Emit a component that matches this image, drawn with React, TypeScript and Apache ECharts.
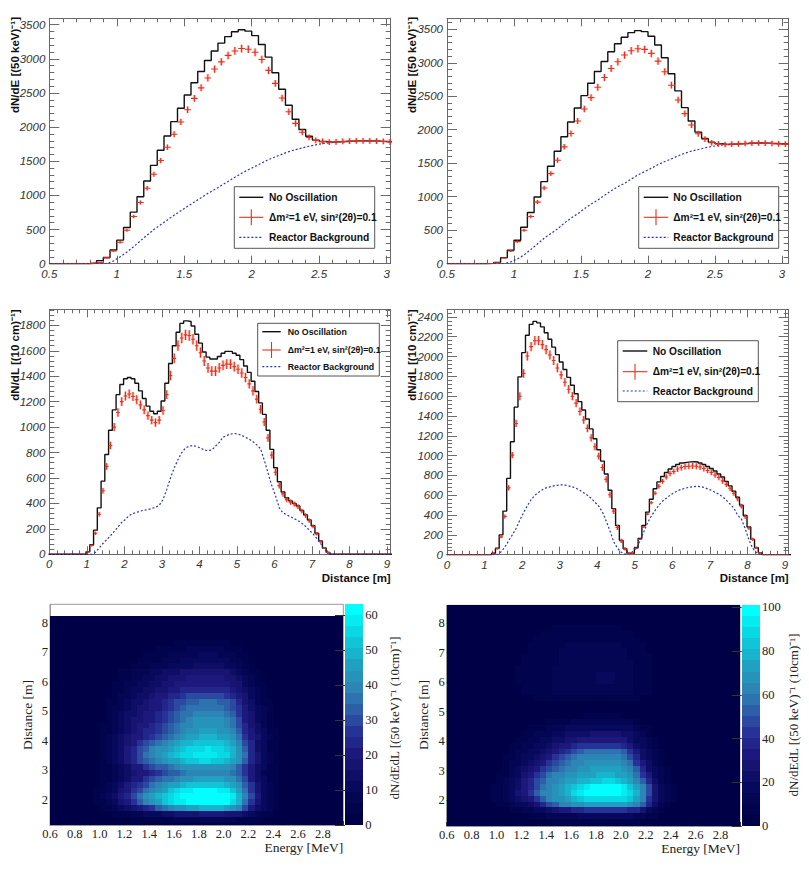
import React, { useEffect, useRef } from "react";
import * as echarts from "echarts";

// Energy spectra: one value per 50 keV bin, starting with the bin that begins at 0.5 MeV
const energyBlackA = [0,0,0,0,0,0,10,45,90,200,345,530,755,980,1210,1440,1660,1870,2080,2275,2470,2650,2815,2975,3115,3230,3325,3395,3425,3405,3340,3210,3025,2795,2555,2320,2115,1965,1865,1810,1790,1780,1785,1790,1795,1798,1800,1798,1795,1790,1785];
const energyRedA = [0,0,0,0,0,0,5,20,85,185,315,490,690,895,1105,1310,1510,1705,1895,2075,2255,2420,2575,2720,2850,2955,3050,3115,3150,3140,3095,2990,2830,2640,2425,2225,2055,1925,1850,1805,1790,1780,1785,1790,1795,1798,1800,1798,1795,1790,1785];
const energyBlueA = [0,0,0,0,0,0,0,0,0,40,100,170,250,335,420,500,570,640,710,775,840,905,965,1030,1085,1145,1205,1265,1325,1375,1425,1475,1525,1565,1605,1640,1670,1695,1720,1740,1760,1770,1780,1785,1790,1795,1800,1798,1795,1790,1785];
const energyBlackB = [0,0,0,0,0,0,5,20,90,200,350,545,765,995,1225,1455,1680,1895,2115,2325,2510,2695,2870,3020,3165,3285,3380,3450,3480,3465,3395,3265,3075,2835,2580,2330,2130,1965,1870,1815,1790,1780,1785,1790,1795,1800,1802,1800,1795,1790,1785];
const energyRedB = [0,0,0,0,0,0,3,15,85,190,330,500,705,920,1130,1345,1545,1745,1945,2130,2310,2480,2635,2780,2915,3015,3115,3180,3210,3200,3140,3025,2865,2665,2445,2240,2070,1940,1860,1805,1790,1780,1785,1790,1795,1800,1802,1800,1795,1790,1785];
const energyBlueB = [0,0,0,0,0,0,0,0,0,25,70,130,210,295,380,450,520,605,680,745,820,890,950,1020,1090,1150,1200,1265,1325,1375,1425,1480,1525,1565,1610,1650,1680,1705,1730,1750,1765,1775,1785,1790,1795,1800,1802,1800,1795,1790,1785];
const energyErr = [0,0,0,0,0,0,2,4,9,14,18,22,26,30,33,36,39,41,44,46,47,49,51,52,53,54,55,56,56,56,56,55,53,51,49,47,45,44,43,42,42,42,42,42,42,42,42,42,42,42,42];

// Distance spectra: one value per 10 cm bin, the first listed bin is bin index distFirstC / distFirstD
const distFirstC = 10;
const distBlackC = [20,75,190,365,575,785,975,1135,1255,1335,1380,1390,1380,1345,1285,1225,1165,1125,1105,1125,1205,1345,1500,1640,1745,1815,1835,1830,1795,1730,1660,1590,1550,1535,1535,1555,1580,1595,1595,1580,1565,1530,1480,1430,1360,1280,1190,1100,975,825,680,570,490,445,420,400,380,345,310,270,225,165,105,50,15];
const distRedC = [20,70,165,315,500,690,855,1000,1115,1200,1245,1260,1240,1215,1175,1135,1090,1055,1035,1055,1130,1255,1405,1540,1640,1700,1725,1720,1690,1640,1585,1520,1465,1440,1440,1465,1485,1495,1495,1475,1455,1425,1390,1340,1285,1220,1140,1040,915,780,645,540,475,430,410,395,375,340,305,265,220,160,100,50,15];
const distBlueC = [0,0,15,50,85,115,145,180,215,250,275,305,320,330,340,347,352,360,370,385,430,510,600,680,745,800,835,850,855,848,835,820,815,820,850,880,920,935,945,950,945,935,920,905,885,860,830,740,640,540,460,365,325,310,295,280,265,245,220,190,160,125,85,40,10];
const distErrC = [5,8,13,18,22,26,29,32,33,35,35,35,35,35,34,34,33,32,32,32,33,35,37,39,40,41,41,41,41,40,40,39,38,38,38,38,38,39,39,38,38,38,37,37,36,35,34,32,30,28,25,23,22,21,20,20,19,18,17,16,15,13,10,7,4];

const distFirstD = 12;
const distBlackD = [15,65,200,440,770,1140,1490,1795,2040,2215,2325,2355,2340,2300,2240,2175,2095,2020,1945,1870,1790,1710,1625,1545,1460,1370,1270,1170,1060,945,815,650,465,295,145,60,15,15,70,165,295,430,560,665,735,790,830,865,890,910,925,932,937,938,935,925,910,890,870,845,815,785,740,695,640,580,500,395,280,155,70,20];
const distRedD = [15,60,180,385,675,1005,1325,1600,1830,2005,2100,2160,2160,2120,2070,2015,1960,1885,1815,1740,1670,1600,1530,1445,1360,1275,1180,1090,995,880,760,605,440,275,140,60,15,15,65,155,280,410,525,620,690,740,785,820,840,865,880,890,893,895,893,885,870,850,830,805,780,745,710,670,620,565,490,385,270,155,70,20];
const distBlueD = [0,0,30,75,140,200,265,350,425,495,555,600,630,655,675,685,695,700,705,703,695,685,670,650,625,600,570,530,490,430,340,240,130,65,25,5,5,30,65,140,230,320,390,445,500,540,570,600,625,645,660,670,680,685,690,688,680,665,650,630,610,585,550,510,470,400,360,265,150,65,20,5];
const distErrD = [4,8,13,20,26,32,36,40,43,45,46,47,47,47,46,45,45,44,43,43,42,41,41,40,39,38,37,36,34,33,31,30,28,25,21,17,12,8,4,4,8,12,17,20,23,25,26,27,28,29,29,30,30,30,30,30,30,29,29,29,28,28,27,27,26,25,24,22,20,16,12,8];

// 2D maps: columns start at 0.95 MeV (50 keV wide), rows start at the lowest non-empty row (0.2 m high)
const mapA: number[][] = [
[0,0,2,2,2,2,4,4,4,5,5,5,5,7,7,7,7,7,8,8,7,7,7,5,5,4,4,2,2,2,0,0],
[0,2,2,4,4,5,7,8,10,11,12,14,15,16,17,18,18,19,19,19,19,18,17,16,14,10,7,5,4,2,2,0],
[2,4,5,7,10,14,17,20,24,28,32,36,39,42,44,46,47,48,49,49,48,47,44,40,29,19,14,10,7,4,2,0],
[4,5,8,12,17,22,27,32,38,43,47,51,54,57,59,60,61,62,62,62,61,60,56,49,37,26,18,12,8,5,2,0],
[4,7,10,15,19,25,30,36,41,45,48,52,55,58,60,61,62,63,63,63,62,60,57,50,39,30,19,12,8,5,2,0],
[4,5,8,12,17,22,27,31,36,40,44,47,51,54,57,58,60,60,60,60,59,57,53,46,37,27,18,12,8,5,2,0],
[3,5,8,11,15,19,23,27,31,35,39,42,45,47,49,51,52,53,53,53,52,50,47,42,34,26,18,12,8,5,2,0],
[2,4,6,9,12,15,19,22,26,29,32,35,37,40,42,44,45,46,46,46,45,44,41,36,29,22,15,10,6,4,2,0],
[2,4,5,8,10,13,16,19,22,25,28,30,32,34,36,38,39,40,40,40,39,38,36,32,26,20,14,9,5,4,2,0],
[2,4,6,9,12,15,19,22,26,29,32,34,36,39,41,42,43,44,44,44,43,42,39,34,28,21,15,10,6,4,2,0],
[2,5,7,11,15,20,25,29,33,36,39,42,45,47,49,51,53,54,54,53,52,50,47,42,33,24,16,11,7,4,2,0],
[2,5,7,11,15,20,25,30,36,40,43,46,48,51,54,55,57,58,58,58,56,54,50,44,35,24,16,11,7,4,2,0],
[2,4,7,10,15,19,24,29,33,38,41,44,47,50,52,54,55,56,57,56,54,53,49,43,32,24,15,10,5,4,2,0],
[3,5,7,10,14,18,22,26,30,33,36,39,43,46,48,50,52,53,53,53,51,49,46,40,30,23,15,10,6,4,2,0],
[3,5,7,10,13,16,19,22,25,28,31,34,37,40,43,45,47,48,48,48,47,45,42,37,28,22,16,11,7,4,2,0],
[2,4,6,9,12,15,18,20,23,25,28,31,34,37,40,42,44,45,45,45,44,43,40,34,25,20,14,10,6,4,2,0],
[2,4,6,9,12,14,17,19,21,24,26,29,32,35,38,40,42,43,43,43,42,40,37,31,23,18,13,9,6,3,1,0],
[2,3,5,8,11,13,16,18,20,22,25,28,31,34,37,39,41,42,42,42,41,39,36,30,22,17,12,8,5,3,1,0],
[1,3,5,8,10,13,15,17,19,21,24,27,30,33,35,37,38,39,39,39,38,36,33,28,21,16,11,8,5,3,1,0],
[1,3,5,7,9,12,14,16,18,20,22,25,28,31,33,35,36,37,37,37,36,34,31,26,19,15,10,7,4,2,1,0],
[1,2,4,6,8,11,13,15,17,19,21,23,26,29,31,33,34,35,35,35,34,32,29,24,18,13,9,6,4,2,1,0],
[0,2,3,5,7,9,11,13,15,17,19,21,23,25,27,29,30,31,31,30,30,28,25,21,16,12,8,5,3,2,0,0],
[0,1,3,4,6,8,10,12,13,15,17,18,20,21,23,24,25,25,25,25,24,23,21,18,14,10,7,4,3,1,0,0],
[0,1,2,4,5,7,9,10,12,13,15,16,18,19,20,21,22,22,22,22,21,20,18,16,12,9,6,4,2,1,0,0],
[0,0,2,3,5,6,8,9,10,12,13,15,16,17,18,19,19,20,20,20,19,18,16,14,11,8,5,3,2,1,0,0],
[0,0,1,3,4,5,7,8,9,10,12,13,14,15,16,16,17,17,17,17,17,16,14,12,9,6,4,2,1,0,0,0],
[0,0,0,0,2,2,4,4,5,7,7,8,10,11,11,12,14,14,14,14,14,12,11,8,5,4,2,0,0,0,0,0],
[0,0,0,0,0,2,2,4,4,5,5,7,8,8,10,10,11,11,11,11,11,10,8,7,4,2,2,0,0,0,0,0],
[0,0,0,0,0,0,2,2,4,4,5,5,7,7,8,8,8,10,10,10,8,8,7,5,4,2,0,0,0,0,0,0],
[0,0,0,0,0,0,0,2,2,2,4,4,5,5,5,7,7,7,7,7,7,5,5,4,2,2,0,0,0,0,0,0],
[0,0,0,0,0,0,0,0,0,2,2,2,2,4,4,4,4,4,4,4,4,4,2,2,0,0,0,0,0,0,0,0],
];
const mapB: number[][] = [
[0,0,0,2,2,2,2,4,4,4,6,6,6,6,8,8,8,8,8,8,8,8,6,6,4,4,2,2,2,0,0,0],
[0,2,2,2,4,4,6,6,8,10,12,12,13,13,15,15,16,16,16,16,16,15,15,13,10,8,6,4,2,2,0,0],
[2,2,4,6,8,10,13,15,19,23,27,31,33,37,39,41,42,43,43,43,42,41,39,36,28,18,12,8,4,2,2,0],
[4,6,8,12,15,19,23,28,37,45,54,60,63,67,69,71,72,73,73,73,72,71,68,63,52,36,20,13,8,4,2,0],
[6,8,12,16,22,27,34,43,53,61,65,69,74,79,82,85,88,89,89,89,88,85,80,72,61,44,26,16,10,6,2,0],
[6,8,13,19,26,33,41,51,60,64,68,73,79,85,90,95,98,100,100,100,98,93,87,76,63,48,28,16,12,6,2,0],
[6,8,12,18,24,32,39,49,58,62,67,71,75,81,86,90,95,98,98,98,95,90,83,74,61,45,27,16,10,6,2,0],
[4,6,10,15,22,30,37,45,53,60,64,67,70,73,76,79,82,84,86,86,83,79,73,64,50,36,22,13,8,4,2,0],
[4,6,8,13,19,26,32,40,48,55,60,62,65,67,70,72,74,76,76,76,74,71,65,57,42,30,18,12,6,4,2,0],
[2,4,6,12,16,22,27,33,41,47,54,59,62,64,67,68,70,71,71,71,70,67,62,50,36,24,15,10,6,2,2,0],
[2,4,6,10,13,18,22,27,33,40,47,53,59,62,64,66,67,68,68,68,67,64,58,42,31,20,13,8,4,2,0,0],
[2,2,6,8,12,15,19,23,27,33,40,46,52,57,60,62,64,64,64,64,63,59,48,36,24,18,12,6,4,2,0,0],
[0,2,4,6,10,12,16,19,23,27,32,38,43,48,52,56,58,59,59,59,57,50,40,30,20,15,10,6,2,2,0,0],
[0,2,4,6,8,10,13,16,19,22,26,30,33,37,40,42,43,44,44,44,42,38,31,23,18,12,8,4,2,0,0,0],
[0,0,2,4,6,8,12,13,16,18,20,23,26,28,30,32,33,33,33,33,32,30,24,19,15,10,6,4,2,0,0,0],
[0,0,2,2,4,6,8,10,12,13,16,18,20,22,23,24,26,26,26,26,26,23,20,16,12,8,4,2,2,0,0,0],
[0,0,0,2,2,4,6,6,8,10,12,13,15,16,18,18,19,19,19,19,19,18,16,12,8,6,2,2,0,0,0,0],
[0,0,0,0,2,2,4,4,4,6,6,8,8,10,10,12,12,12,12,12,12,10,10,8,4,2,2,0,0,0,0,0],
[0,0,0,0,0,0,2,2,2,2,4,4,4,4,4,6,6,6,6,6,6,4,4,4,2,2,0,0,0,0,0,0],
[0,0,0,0,0,0,0,0,1,1,1,1,1,1,1,1,1,1,1,1,1,1,1,1,0,0,0,0,0,0,0,0],
[0,0,0,0,0,0,0,1,2,2,2,3,3,3,3,3,3,3,3,3,3,3,2,2,1,0,0,0,0,0,0,0],
[0,0,0,0,0,0,0,5,6,6,6,6,7,7,7,7,7,7,7,7,7,7,6,6,4,0,0,0,0,0,0,0],
[0,0,0,0,0,5,6,6,6,7,11,11,11,12,12,12,12,12,12,12,12,11,11,8,7,5,0,0,0,0,0,0],
[0,0,0,0,0,6,6,7,7,8,11,11,12,12,12,13,13,13,13,13,12,12,11,8,7,6,0,0,0,0,0,0],
[0,0,0,0,5,6,7,7,7,8,11,12,12,13,13,13,14,16,17,16,14,13,11,8,7,6,0,0,0,0,0,0],
[0,0,0,0,5,6,7,7,7,8,11,12,12,13,13,13,14,16,18,16,14,13,11,8,7,6,0,0,0,0,0,0],
[0,0,0,0,5,6,7,7,7,8,11,11,12,12,13,13,13,14,14,14,13,12,11,8,7,6,0,0,0,0,0,0],
[0,0,0,0,0,6,6,7,7,7,9,11,12,12,13,13,13,13,13,13,13,12,10,8,7,5,0,0,0,0,0,0],
[0,0,0,0,0,5,6,6,7,7,8,11,11,12,12,12,12,12,12,12,12,11,9,7,6,5,0,0,0,0,0,0],
[0,0,0,0,0,0,6,6,6,7,7,11,11,11,11,12,12,12,12,11,11,11,8,7,6,0,0,0,0,0,0,0],
[0,0,0,0,0,0,5,6,6,6,7,7,10,10,11,11,11,11,11,11,11,7,7,6,5,0,0,0,0,0,0,0],
[0,0,0,0,0,0,0,5,6,6,6,7,7,7,8,8,8,8,8,8,7,7,7,6,0,0,0,0,0,0,0,0],
[0,0,0,0,0,0,0,0,5,6,6,6,6,7,7,7,7,7,7,7,7,6,6,0,0,0,0,0,0,0,0,0],
[0,0,0,0,0,0,0,0,0,0,5,5,5,6,6,6,6,6,6,6,5,0,0,0,0,0,0,0,0,0,0,0],
];

const legendNames = ["No Oscillation", "\u0394m\u00b2=1 eV, sin\u00b2(2\u03b8)=0.1", "Reactor Background"];
const paletteStops: [number, number, number, number][] = [
  [0, 0, 0, 70], [0.15, 5, 8, 90], [0.32, 30, 25, 125], [0.42, 38, 50, 150], [0.5, 45, 85, 165],
  [0.62, 45, 130, 180], [0.75, 30, 165, 195], [0.88, 10, 210, 225], [1, 0, 255, 255],
];
const LEVELS = 20;
const SANS = "'Liberation Sans', Arial, sans-serif";
const SERIF = "'Liberation Serif', 'Times New Roman', serif";
const BLACK = "#111111";
const RED = "#e8301c";
const BLUE = "#2a35c0";
const FRAME = "#6a6a6a";

function levelColor(level: number) {
  const t = level / (LEVELS - 1);
  for (let i = 1; i < paletteStops.length; i++) {
    const [b, r1, g1, b1] = paletteStops[i];
    const [a, r0, g0, b0] = paletteStops[i - 1];
    if (t <= b) {
      const f = (t - a) / (b - a);
      return `rgb(${Math.round(r0 + (r1 - r0) * f)},${Math.round(g0 + (g1 - g0) * f)},${Math.round(b0 + (b1 - b0) * f)})`;
    }
  }
  return "rgb(0,255,255)";
}
const levelOf = (v: number, max: number) => Math.min(LEVELS - 1, Math.floor((v / max) * LEVELS));

const grids: any[] = [];
const xAxes: any[] = [];
const yAxes: any[] = [];
const series: any[] = [];
const graphics: any[] = [];

function pad(values: number[], first: number, count: number) {
  return Array.from({ length: count }, (_, k) => values[k - first] ?? 0);
}

function addHistPanel(p: any) {
  const g = grids.length;
  grids.push({ left: p.left, top: p.top, width: p.right - p.left, height: p.bottom - p.top, show: false });
  const lineStyle = { color: FRAME, width: 1 };
  const base = (extra: any) => ({
    type: "value", gridIndex: g, splitLine: { show: false },
    axisLine: { show: true, onZero: false, lineStyle },
    ...extra,
  });
  const label = {
    show: true, fontFamily: SANS, fontStyle: "italic", fontSize: 11.5, color: "#333", margin: 4,
    showMaxLabel: false, formatter: (v: number) => String(v),
  };
  const noLabel = { show: false };
  const xt = { show: true, inside: true, length: 8, lineStyle };
  const xm = { show: true, length: 4, splitNumber: 5, lineStyle };
  const yt = { show: true, inside: true, length: 10, lineStyle };
  const ym = { show: true, length: 5, splitNumber: 5, lineStyle };
  const xi = xAxes.length;
  const xr = { min: p.xMin, max: p.xMax, interval: p.xInt };
  xAxes.push(base({ ...xr, position: "bottom", axisLabel: label, axisTick: xt, minorTick: xm }));
  xAxes.push(base({ ...xr, position: "top", axisLabel: noLabel, axisTick: xt, minorTick: xm }));
  const yi = yAxes.length;
  const yr = { min: 0, max: p.yMax, interval: p.yInt };
  yAxes.push(base({ ...yr, position: "left", axisLabel: label, axisTick: yt, minorTick: ym }));
  yAxes.push(base({ ...yr, position: "right", axisLabel: noLabel, axisTick: yt, minorTick: ym }));

  const edge = (k: number) => p.start + k * p.width;
  const black = p.black.map((v: number, k: number) => [edge(k), v]);
  black.push([edge(p.black.length), p.black[p.black.length - 1]]);
  series.push({
    type: "line", name: legendNames[0], xAxisIndex: xi, yAxisIndex: yi, data: black, step: "end", showSymbol: false,
    symbol: "none", silent: true, clip: true, lineStyle: { color: BLACK, width: 1.4 }, z: 3,
  });
  series.push({
    type: "line", name: legendNames[2], xAxisIndex: xi, yAxisIndex: yi,
    data: p.blue.map((v: number, k: number) => [edge(k) + p.width / 2, v]), showSymbol: false, symbol: "none", silent: true, clip: true,
    lineStyle: { color: BLUE, width: 1.2, type: [2, 2] }, z: 4,
  });
  series.push({
    type: "custom", name: legendNames[1], xAxisIndex: xi, yAxisIndex: yi, clip: true, silent: true, z: 5,
    encode: { x: 0, y: 1 },
    data: p.red.map((v: number, k: number) => [edge(k) + p.width / 2, v, p.err[k]]),
    renderItem: (_: any, api: any) => {
      const x = api.value(0), y = api.value(1), e = api.value(2);
      const c = api.coord([x, y]);
      const up = api.coord([x, y + e])[1];
      const dn = api.coord([x, y - e])[1];
      const l = api.coord([x - p.width / 2, y])[0];
      const r = api.coord([x + p.width / 2, y])[0];
      return {
        type: "group",
        children: [
          { type: "line", shape: { x1: c[0], y1: up, x2: c[0], y2: dn }, style: { stroke: RED, lineWidth: 3, opacity: 0.25 } },
          { type: "line", shape: { x1: c[0], y1: up, x2: c[0], y2: dn }, style: { stroke: RED, lineWidth: 1.1 } },
          { type: "line", shape: { x1: l, y1: c[1], x2: r, y2: c[1] }, style: { stroke: RED, lineWidth: 1.1 } },
        ],
      };
    },
  });

  graphics.push({
    type: "text", rotation: Math.PI / 2, x: p.yTitleX, y: p.yTitleY, z: 10,
    style: { text: p.yTitle, font: `bold 11.5px ${SANS}`, fill: "#111", align: "center", verticalAlign: "middle" },
  });
  if (p.xTitle) {
    graphics.push({
      type: "text", x: p.right, y: p.xTitleY, z: 10,
      style: { text: p.xTitle, font: `bold 11.5px ${SANS}`, fill: "#111", align: "right", verticalAlign: "middle" },
    });
  }
  const L = p.legend;
  graphics.push({
    type: "rect", z: 10, shape: { x: L.left, y: L.top, width: L.right - L.left, height: L.bottom - L.top },
    style: { fill: "#fff", stroke: "#555", lineWidth: 1 },
  });
  const font = `bold ${L.size}px ${SANS}`;
  L.rows.forEach((y: number, i: number) => {
    graphics.push({
      type: "line", z: 11, shape: { x1: L.lineL, y1: y, x2: L.lineR, y2: y },
      style: i === 2
        ? { stroke: BLUE, lineWidth: 1.2, lineDash: [2, 2] }
        : { stroke: i === 0 ? BLACK : RED, lineWidth: i === 0 ? 1.4 : 1.1 },
    });
    if (i === 1) {
      const m = (L.lineL + L.lineR) / 2;
      graphics.push({ type: "line", z: 11, shape: { x1: m, y1: y - 8, x2: m, y2: y + 8 }, style: { stroke: RED, lineWidth: 1.1 } });
    }
    graphics.push({
      type: "text", z: 11, x: L.textX, y,
      style: { text: legendNames[i], font, fill: "#111", align: "left", verticalAlign: "middle" },
    });
  });
}

function crispRect(api: any, fill: string) {
  const a = api.coord([api.value(0), api.value(3)]);
  const b = api.coord([api.value(1), api.value(2)]);
  const x = Math.round(a[0]), y = Math.round(a[1]);
  return { type: "rect", shape: { x, y, width: Math.round(b[0]) - x, height: Math.round(b[1]) - y }, style: { fill } };
}

function addMapPanel(p: any) {
  const g = grids.length;
  grids.push({ left: p.left, top: p.top, width: p.right - p.left, height: p.bottom - p.top, show: true, borderColor: "#999", borderWidth: 1, backgroundColor: "#fff" });
  const tickStyle = { color: "#333", width: 1 };
  const labelBase = { fontFamily: SERIF, fontSize: 12.5, color: "#222" };
  const xi = xAxes.length;
  xAxes.push({
    type: "value", gridIndex: g, min: 0.6, max: p.xMax, interval: 0.2, splitLine: { show: false },
    axisLine: { show: true, onZero: false, lineStyle: { color: "#999" } },
    axisTick: { show: true, inside: true, length: 4, lineStyle: tickStyle },
    minorTick: { show: true, splitNumber: 4, length: 2, lineStyle: tickStyle },
    axisLabel: { ...labelBase, margin: 2, showMaxLabel: false, formatter: (v: number) => v.toFixed(1) },
  });
  const yi = yAxes.length;
  const yTicks = [2, 3, 4, 5, 6, 7, 8];
  yAxes.push({
    type: "value", gridIndex: g, min: p.yMin, max: p.yMax, splitLine: { show: false },
    axisLine: { show: true, onZero: false, lineStyle: { color: "#999" } },
    axisTick: { show: true, inside: true, length: 6, customValues: yTicks, lineStyle: tickStyle },
    axisLabel: { ...labelBase, margin: 2, customValues: yTicks, formatter: (v: number) => String(v) },
  });
  const cells: number[][] = [];
  for (let r = p.rowFrom; r <= p.rowTo; r++) {
    const y0 = Math.max(p.yMin, p.rowStart + 0.2 * r);
    const y1 = Math.min(p.heatTop, p.rowStart + 0.2 * (r + 1));
    if (y1 <= y0) continue;
    for (let c = 0; c < 48; c++) {
      const x0 = 0.6 + 0.05 * c;
      if (x0 >= p.xMax) continue;
      const x1 = Math.min(p.xMax, x0 + 0.05);
      cells.push([x0, x1, y0, y1, p.map[r]?.[c - 7] ?? 0]);
    }
  }
  series.push({
    type: "custom", name: "map", xAxisIndex: xi, yAxisIndex: yi, silent: true, data: cells,
    encode: { x: [0, 1], y: [2, 3] },
    renderItem: (_: any, api: any) => crispRect(api, levelColor(levelOf(api.value(4), p.zMaxValue))),
  });

  const bg = grids.length;
  grids.push({ left: p.barL, top: p.top, width: p.barR - p.barL, height: p.bottom - p.top, show: false });
  const bx = xAxes.length;
  xAxes.push({ type: "value", gridIndex: bg, min: 0, max: 1, show: false });
  const by = yAxes.length;
  yAxes.push({
    type: "value", gridIndex: bg, min: 0, max: p.zTop, interval: p.zInt, position: "right", splitLine: { show: false },
    axisLine: { show: false },
    axisTick: { show: true, inside: true, length: 10, lineStyle: tickStyle },
    axisLabel: { ...labelBase, margin: 2, showMaxLabel: false, formatter: (v: number) => String(v) },
    z: 8,
  });
  const step = p.zTop / LEVELS;
  series.push({
    type: "custom", name: "palette", xAxisIndex: bx, yAxisIndex: by, silent: true,
    encode: { x: [0, 1], y: [2, 3] },
    data: Array.from({ length: LEVELS }, (_, i) => [0, 1, i * step, (i + 1) * step, i]),
    renderItem: (_: any, api: any) => crispRect(api, levelColor(api.value(4))),
  });

  graphics.push({
    type: "text", x: p.right, y: p.xTitleY, z: 10,
    style: { text: "Energy [MeV]", font: `13.5px ${SERIF}`, fill: "#222", align: "right", verticalAlign: "middle" },
  });
  graphics.push({
    type: "text", rotation: Math.PI / 2, x: p.yTitleX, y: 715, z: 10,
    style: { text: "Distance [m]", font: `13.5px ${SERIF}`, fill: "#222", align: "center", verticalAlign: "middle" },
  });
  graphics.push({
    type: "text", rotation: Math.PI / 2, x: p.zTitleX, y: p.zTitleY, z: 10,
    style: { text: "dN/dEdL [(50 keV)\u207b\u00b9 (10cm)\u207b\u00b9]", font: `13px ${SERIF}`, fill: "#222", align: "center", verticalAlign: "middle" },
  });
}

addHistPanel({
  left: 49.3, right: 390.7, top: 18.3, bottom: 263.7, xMin: 0.5, xMax: 3.03, xInt: 0.5, yMax: 3593, yInt: 500,
  start: 0.5, width: 0.05, black: energyBlackA, red: energyRedA, blue: energyBlueA, err: energyErr,
  yTitle: "dN/dE [(50 keV)\u207b\u00b9]", yTitleX: 15, yTitleY: 65,
  legend: { left: 234.3, right: 374.7, top: 186.7, bottom: 248.3, rows: [197.3, 217.3, 237.3], lineL: 239.3, lineR: 263.3, textX: 269, size: 10.2 },
});
addHistPanel({
  left: 447, right: 788.7, top: 18.3, bottom: 263.7, xMin: 0.5, xMax: 3.05, xInt: 0.5, yMax: 3664, yInt: 500,
  start: 0.5, width: 0.05, black: energyBlackB, red: energyRedB, blue: energyBlueB, err: energyErr,
  yTitle: "dN/dE [(50 keV)\u207b\u00b9]", yTitleX: 412, yTitleY: 65,
  legend: { left: 638.7, right: 778.7, top: 186.7, bottom: 248.3, rows: [197.3, 217.3, 237.3], lineL: 643.7, lineR: 668.3, textX: 673.3, size: 10.2 },
});
addHistPanel({
  left: 49.3, right: 390.7, top: 309.3, bottom: 554.3, xMin: 0, xMax: 9.1, xInt: 1, yMax: 1926, yInt: 200,
  start: -0.02, width: 0.1,
  black: pad(distBlackC, distFirstC, 92), red: pad(distRedC, distFirstC, 92), blue: pad(distBlueC, distFirstC, 92), err: pad(distErrC, distFirstC, 92),
  yTitle: "dN/dL [(10 cm)\u207b\u00b9]", yTitleX: 15, yTitleY: 355,
  xTitle: "Distance [m]", xTitleY: 577.7,
  legend: { left: 257.7, right: 379.3, top: 323.3, bottom: 376, rows: [331.7, 350, 366.7], lineL: 262.3, lineR: 280.7, textX: 287.7, size: 8.8 },
});
addHistPanel({
  left: 447, right: 788.7, top: 309.3, bottom: 554.7, xMin: 0, xMax: 9.1, xInt: 1, yMax: 2477, yInt: 200,
  start: -0.01, width: 0.1,
  black: pad(distBlackD, distFirstD, 92), red: pad(distRedD, distFirstD, 92), blue: pad(distBlueD, distFirstD, 92), err: pad(distErrD, distFirstD, 92),
  yTitle: "dN/dL [(10 cm)\u207b\u00b9]", yTitleX: 412, yTitleY: 355,
  xTitle: "Distance [m]", xTitleY: 578,
  legend: { left: 617.7, right: 758.3, top: 340.7, bottom: 401.7, rows: [351, 371.7, 391], lineL: 622.7, lineR: 647.3, textX: 652.7, size: 10.2 },
});
addMapPanel({
  left: 50, right: 343.3, top: 604.3, bottom: 825, xMax: 2.965, yMin: 1.154, yMax: 8.62, heatTop: 8.22,
  rowStart: 1.22, rowFrom: -1, rowTo: 34, map: mapA, zMaxValue: 63, zTop: 63, zInt: 10,
  barL: 345, barR: 363.3, yTitleX: 27, zTitleX: 394, zTitleY: 718, xTitleY: 847.5,
});
addMapPanel({
  left: 446.7, right: 740, top: 605.3, bottom: 826, xMax: 2.957, yMin: 1.12, yMax: 8.61, heatTop: 8.61,
  rowStart: 1.15, rowFrom: -1, rowTo: 37, map: mapB, zMaxValue: 100, zTop: 101, zInt: 20,
  barL: 741.7, barR: 760, yTitleX: 423, zTitleX: 793, zTitleY: 715, xTitleY: 848.5,
});

const option: any = {
  animation: false,
  backgroundColor: "#fff",
  grid: grids,
  xAxis: xAxes,
  yAxis: yAxes,
  series,
  graphic: { elements: graphics },
};

export default function App() {
  const ref = useRef<HTMLDivElement>(null);
  useEffect(() => {
    const chart = echarts.init(ref.current!, undefined, { renderer: "svg" });
    chart.setOption(option);
    return () => chart.dispose();
  }, []);
  return <div ref={ref} style={{ position: "absolute", left: 0, top: 0, width: 809, height: 869 }} />;
}
